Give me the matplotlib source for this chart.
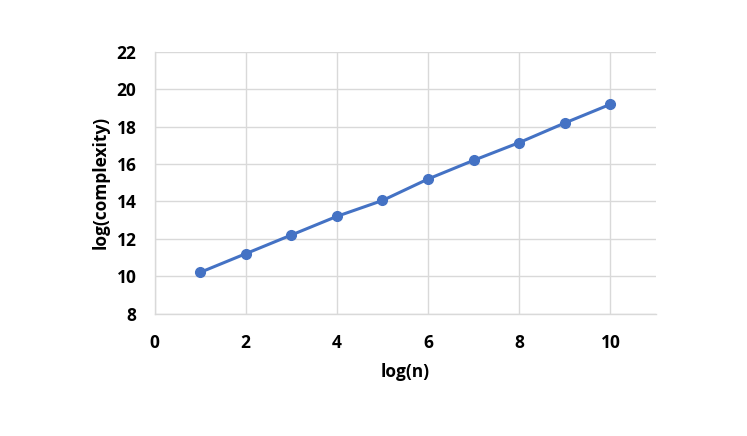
import matplotlib.pyplot as plt

# valores
log_n = [1, 2, 3, 4, 5, 6, 7, 8, 9, 10]
log_complexidade = [10.2, 11.2, 12.2, 13.2, 14.05, 15.2, 16.2, 17.15, 18.2, 19.2]

x_ticks = [0, 2, 4, 6, 8, 10]
y_ticks = [8, 10, 12, 14, 16, 18, 20, 22]

plt.rcParams['font.family'] = ['Open Sans', 'DejaVu Sans']

figura = plt.figure(figsize=(7.47, 4.36), dpi=100)
eixo = figura.add_axes([154.5 / 747, 1 - 313.5 / 436, (656 - 154.5) / 747, (313.5 - 52) / 436])

eixo.plot(log_n, log_complexidade, color='#4472C4', linewidth=2.2,
          marker='o', markersize=7, zorder=3)

eixo.set_xlim(0, 11)
eixo.set_ylim(8, 22)
eixo.set_xticks(x_ticks)
eixo.set_yticks(y_ticks)

# grade cinza clarinha estilo Excel
eixo.grid(True, color='#D9D9D9', linewidth=1)
eixo.set_axisbelow(True)
for lado in ['top', 'right']:
    eixo.spines[lado].set_visible(False)
for lado in ['left', 'bottom']:
    eixo.spines[lado].set_color('#D9D9D9')
    eixo.spines[lado].set_linewidth(1)

eixo.tick_params(length=0, labelsize=12.5)
eixo.tick_params(axis='x', pad=15)
eixo.tick_params(axis='y', pad=13)
for rotulo in eixo.get_xticklabels() + eixo.get_yticklabels():
    rotulo.set_fontweight('bold')

eixo.set_xlabel('log(n)', fontsize=12.5, fontweight='bold', labelpad=8)
eixo.set_ylabel('log(complexity)', fontsize=12.5, fontweight='bold', labelpad=5)

figura.savefig('out.png', dpi=100)
